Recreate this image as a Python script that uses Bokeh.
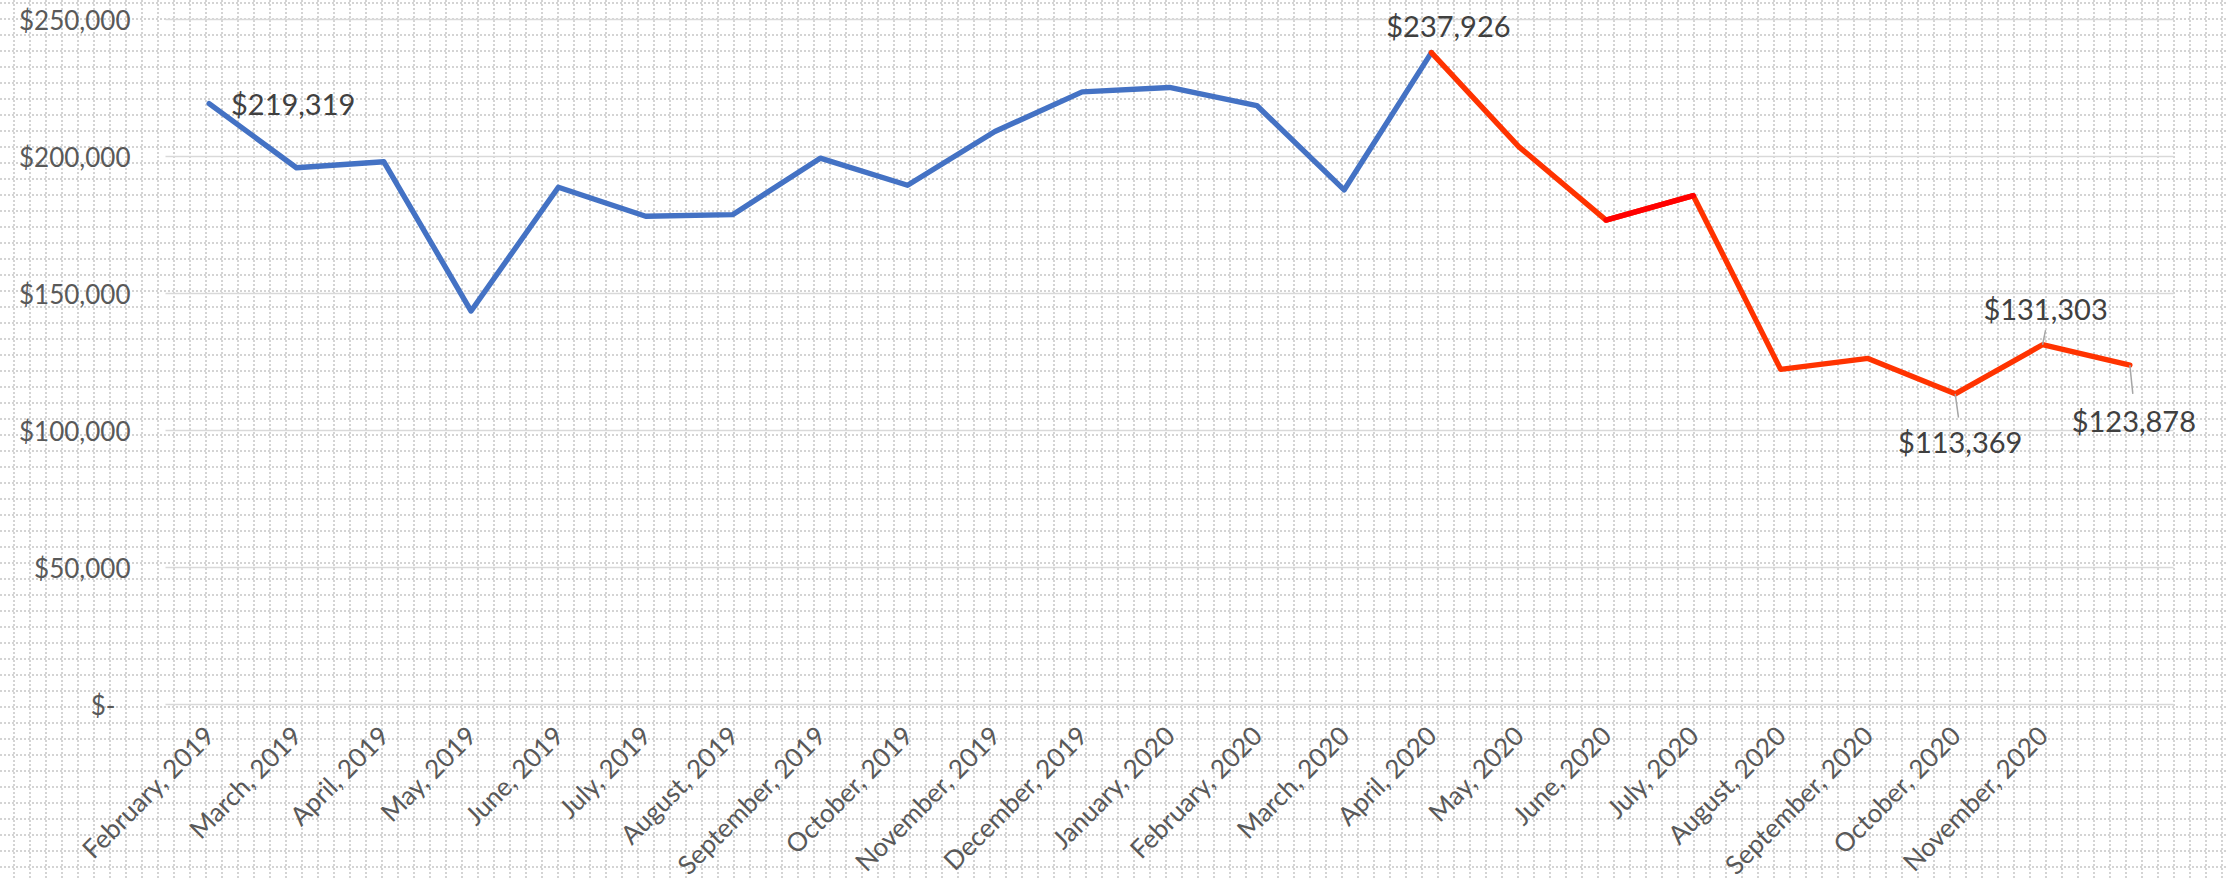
import base64
import math
from bokeh.plotting import figure
from bokeh.models import FixedTicker, Range1d, ColumnDataSource
from bokeh.core.properties import value
from bokeh.embed import file_html
from bokeh.resources import INLINE

# ---------------- data ----------------
month_labels = [
    "February, 2019", "March, 2019", "April, 2019", "May, 2019", "June, 2019",
    "July, 2019", "August, 2019", "September, 2019", "October, 2019",
    "November, 2019", "December, 2019", "January, 2020", "February, 2020",
    "March, 2020", "April, 2020", "May, 2020", "June, 2020", "July, 2020",
    "August, 2020", "September, 2020", "October, 2020", "November, 2020",
]
sales = [
    219319, 195900, 198100, 143600, 188800, 178200, 178800, 199400, 189500,
    209100, 223600, 225200, 218600, 187800, 237926, 203600, 176800, 185700,
    122300, 126300, 113369, 131303, 123878,
]
y_ticks = [0, 50000, 100000, 150000, 200000, 250000]
y_tick_labels = ["$-\u2007", "$50,000", "$100,000", "$150,000", "$200,000", "$250,000"]
labelled_points = [0, 14, 20, 21, 22]
leader_points = [20, 21, 22]

n = len(sales)
x_idx = list(range(n))
blue_end = 14          # blue up to April 2020
red_seg = (16, 17)     # June -> July 2020 segment in pure red

# ---------------- style / layout ----------------
BLUE = "#4472C4"
ORANGE_RED = "#FF3300"
RED = "#FF0000"
FONT = "Lato"
W, H = 2227, 880
PLOT_L, PLOT_R = 165, 2173      # category area, px
Y_TOP, Y_ZERO = 19, 704         # px of axis max / zero
px_x = (PLOT_R - PLOT_L) / n
u_y = y_ticks[-1] / (Y_ZERO - Y_TOP)

label_dx = {0: 84, 14: 17, 20: 5, 21: 3, 22: 4}
label_dy = {0: 0, 14: -27, 20: 48, 21: -36, 22: 55}
leader_len = {20: 24, 21: 15, 22: 29}
leader_ang = {20: math.atan2(-22, 3), 21: math.atan2(14.6, 3), 22: math.atan2(-29, 3)}

# dotted background tile (16px grid of dotted lines)
rects = "".join("<rect x='%d' y='2' width='2' height='2'/>" % x for x in (0, 4, 8, 12))
rects += "".join("<rect x='13' y='%d' width='2' height='2'/>" % y for y in (0, 4, 8, 12))
tile = ("<svg xmlns='http://www.w3.org/2000/svg' width='16' height='16'>"
        "<g fill='#d4d4d4'>" + rects + "</g></svg>")
bg = "url(\"data:image/svg+xml;base64," + base64.b64encode(tile.encode()).decode() + "\")"

x_start = -0.5 - PLOT_L / px_x
x_end = n - 0.5 + (W - PLOT_R) / px_x
y_end = y_ticks[-1] + Y_TOP * u_y
y_start = -(H - Y_ZERO) * u_y

p = figure(
    width=W, height=H, output_backend="svg", toolbar_location=None, title=None,
    x_range=Range1d(x_start, x_end), y_range=Range1d(y_start, y_end),
    min_border=0, min_border_left=0, min_border_right=0, min_border_top=0, min_border_bottom=0,
    styles={"background-image": bg, "background-repeat": "repeat"},
)
p.border_fill_alpha = 0
p.background_fill_alpha = 0
p.outline_line_color = None
p.xgrid.visible = False
p.ygrid.visible = False

# horizontal gridlines across the category area
p.segment(x0=[-0.5] * len(y_ticks), x1=[n - 0.5] * len(y_ticks), y0=y_ticks, y1=y_ticks,
          line_color="#d9d9d9", line_width=1.6)

# y axis
p.yaxis.fixed_location = -0.5
p.yaxis.ticker = FixedTicker(ticks=y_ticks)
p.yaxis.major_label_overrides = {t: l for t, l in zip(y_ticks, y_tick_labels)}
p.yaxis.axis_line_color = None
p.yaxis.major_tick_line_color = None
p.yaxis.minor_tick_line_color = None
p.yaxis.major_tick_out = 0
p.yaxis.major_tick_in = 0
p.yaxis.major_label_standoff = 35
p.yaxis.major_label_text_font = FONT
p.yaxis.major_label_text_font_size = "26px"
p.yaxis.major_label_text_color = "#595959"

# x axis
p.xaxis.fixed_location = 0
p.xaxis.ticker = FixedTicker(ticks=list(range(len(month_labels))))
p.xaxis.major_label_overrides = {i: m for i, m in enumerate(month_labels)}
p.xaxis.axis_line_color = None
p.xaxis.major_tick_line_color = None
p.xaxis.minor_tick_line_color = None
p.xaxis.major_tick_out = 0
p.xaxis.major_tick_in = 0
p.xaxis.major_label_orientation = math.pi / 4
p.xaxis.major_label_standoff = 26
p.xaxis.major_label_text_font = FONT
p.xaxis.major_label_text_font_size = "26px"
p.xaxis.major_label_text_color = "#595959"

# lines
LW = 5.4
p.line(x_idx[:blue_end + 1], sales[:blue_end + 1], line_color=BLUE, line_width=LW,
       line_join="round", line_cap="round")
p.line(x_idx[blue_end:], sales[blue_end:], line_color=ORANGE_RED, line_width=LW,
       line_join="round", line_cap="round")
p.line(x_idx[red_seg[0]:red_seg[1] + 1], sales[red_seg[0]:red_seg[1] + 1], line_color=RED,
       line_width=LW, line_join="round", line_cap="round")

# leader lines
p.ray(x=[x_idx[i] for i in leader_points], y=[sales[i] for i in leader_points],
      length=[leader_len[i] for i in leader_points], length_units="screen",
      angle=[leader_ang[i] for i in leader_points],
      line_color="#a6a6a6", line_width=1.5)

# data labels
lab = ColumnDataSource(dict(
    x=[x_idx[i] for i in labelled_points],
    y=[sales[i] for i in labelled_points],
    text=["${:,}".format(sales[i]) for i in labelled_points],
    dx=[label_dx[i] for i in labelled_points],
    dy=[label_dy[i] for i in labelled_points],
))
p.text(x="x", y="y", text="text", x_offset="dx", y_offset="dy", source=lab,
       text_align="center", text_baseline="middle", text_font=value(FONT),
       text_font_size="29px", text_color="#404040")

open("out.html", "w").write(file_html(p, INLINE))
